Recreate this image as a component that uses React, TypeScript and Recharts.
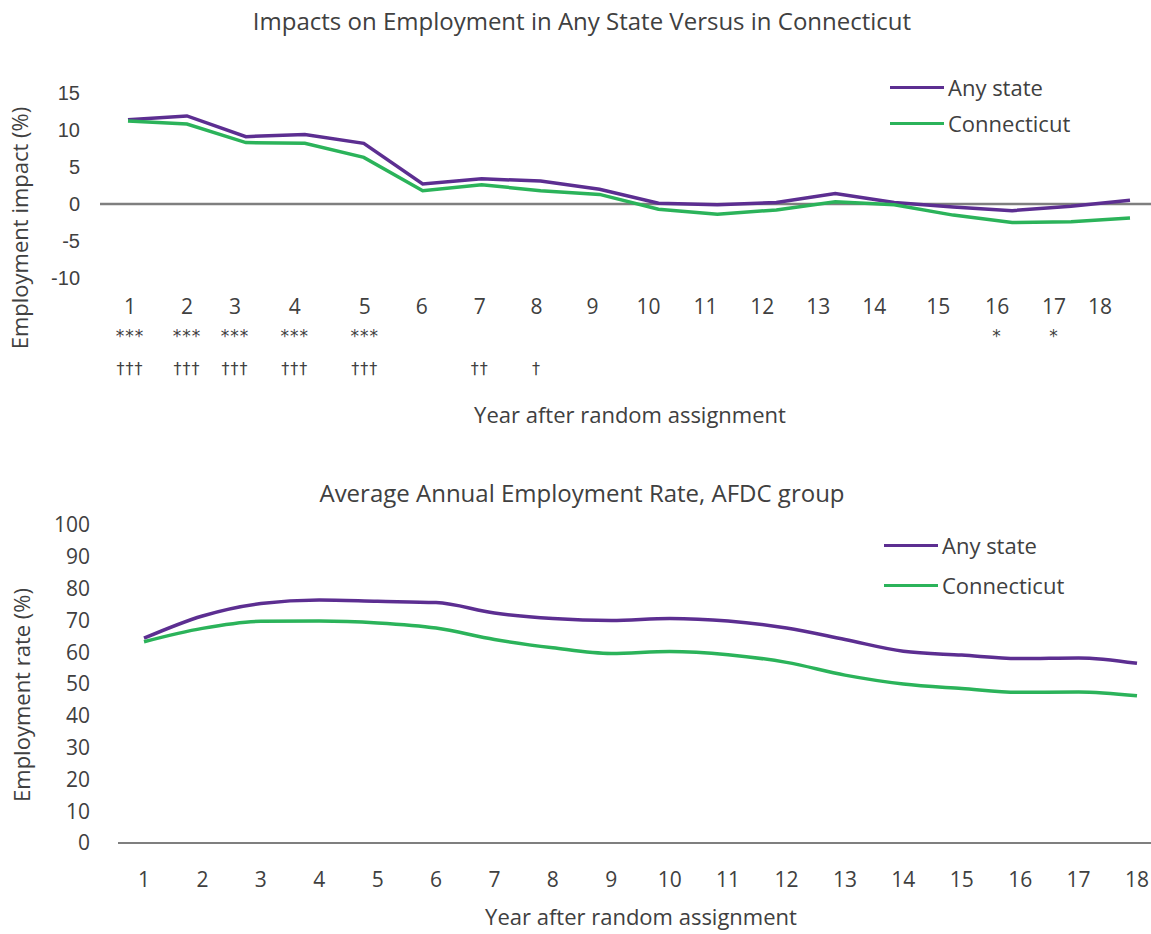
import { Label, Line, LineChart, ReferenceLine, XAxis, YAxis } from "recharts";

const years = [1, 2, 3, 4, 5, 6, 7, 8, 9, 10, 11, 12, 13, 14, 15, 16, 17, 18];
const seriesNames = ["Any state", "Connecticut"];

// top panel: impact (%)
const impactAnyState = [11.4, 11.9, 9.1, 9.4, 8.2, 2.7, 3.4, 3.1, 2.0, 0.1, -0.1, 0.2, 1.4, 0.2, -0.4, -0.9, -0.3, 0.5];
const impactConnecticut = [11.2, 10.8, 8.3, 8.2, 6.3, 1.8, 2.6, 1.8, 1.3, -0.7, -1.4, -0.8, 0.3, -0.1, -1.5, -2.5, -2.4, -1.9];
const stars = ["***", "***", "***", "***", "***", "", "", "", "", "", "", "", "", "", "", "*", "*", ""];
const daggers = ["†††", "†††", "†††", "†††", "†††", "", "††", "†", "", "", "", "", "", "", "", "", "", ""];
const impactTicks = [-10, -5, 0, 5, 10, 15];

// bottom panel: employment rate (%)
const rateAnyState = [64.4, 71.4, 75.3, 76.4, 76.0, 75.6, 72.3, 70.6, 70.0, 70.6, 69.8, 67.6, 64.0, 60.3, 59.1, 58.0, 58.2, 56.5];
const rateConnecticut = [63.3, 67.5, 69.7, 69.8, 69.2, 67.6, 64.0, 61.4, 59.6, 60.2, 59.2, 56.8, 52.8, 50.0, 48.6, 47.4, 47.5, 46.3];
const rateTicks = [0, 10, 20, 30, 40, 50, 60, 70, 80, 90, 100];

const PURPLE = "#5c2e91";
const GREEN = "#2bb35a";
const colors = [PURPLE, GREEN];
const TEXT = "#404040";
const FONT = "'Open Sans', sans-serif";

// the year labels in the top panel sit a little off their points in the original
const labelNudge = [2, 0, -11, -10, 1, -1, -2, -4, -7, -10, -12, -14, -17, -20, -15, -15, -17, -30];

const impactData = years.map((y, i) => ({ year: y, any: impactAnyState[i], ct: impactConnecticut[i] }));
const rateData = years.map((y, i) => ({ year: y, any: rateAnyState[i], ct: rateConnecticut[i] }));

function ImpactTick(props: any) {
  const { x, y, payload } = props;
  const i = years.indexOf(payload.value);
  return (
    <g transform={`translate(${x + labelNudge[i]},${y})`} fill={TEXT} textAnchor="middle">
      <text y={29} dy="0.35em" fontSize={21} fontFamily={FONT}>{payload.value}</text>
      <text y={58} dy="0.35em" fontSize={17} letterSpacing={1} fontFamily="'DejaVu Sans', sans-serif">{stars[i]}</text>
      <text y={90} dy="0.35em" fontSize={16} letterSpacing={1} fontFamily="'DejaVu Sans', sans-serif">{daggers[i]}</text>
    </g>
  );
}

function LegendBox({ left, top, rowH }: { left: number; top: number; rowH: number }) {
  return (
    <div style={{ position: "absolute", left, top, fontFamily: FONT, fontSize: 22, color: TEXT }}>
      {seriesNames.map((name, i) => (
        <div key={name} style={{ display: "flex", alignItems: "center", height: rowH }}>
          <span style={{ display: "inline-block", width: 54, height: 3, background: colors[i], marginRight: 4 }} />
          <span>{name}</span>
        </div>
      ))}
    </div>
  );
}

function title(text: string, top: number) {
  return (
    <div style={{ position: "absolute", left: 0, width: 1164, top, textAlign: "center", fontFamily: FONT, fontSize: 24, color: TEXT, lineHeight: "30px" }}>
      {text}
    </div>
  );
}

export default function App() {
  return (
    <div style={{ position: "absolute", left: 0, top: 0, width: 1151, height: 934, background: "#fff" }}>
      {title("Impacts on Employment in Any State Versus in Connecticut", 6)}
      <div style={{ position: "absolute", left: 0, top: 0 }}>
        <LineChart width={1151} height={440} data={impactData} margin={{ top: 93, right: 0, bottom: 0, left: 0 }}>
          <XAxis dataKey="year" type="number" domain={[1, 18]} ticks={years} interval={0}
            padding={{ left: 28, right: 21 }} height={162} axisLine={false} tickLine={false}
            tickSize={0} tickMargin={0} tick={<ImpactTick />}>
            <Label content={() => (
              <text x={630} y={415} dy="0.35em" textAnchor="middle" fontFamily={FONT} fontSize={22} fill={TEXT}>
                Year after random assignment
              </text>
            )} />
          </XAxis>
          <YAxis type="number" domain={[-10, 15]} ticks={impactTicks} width={100} axisLine={false} tickLine={false}
            tickSize={0} tickMargin={20} interval={0}
            tick={{ fontFamily: "'Liberation Sans', Arial, sans-serif", fontSize: 20, fill: TEXT }}>
            <Label content={() => (
              <text x={20} y={228} dy="0.35em" textAnchor="middle" transform="rotate(-90 20 228)" fontFamily={FONT} fontSize={22} fill={TEXT}>
                Employment impact (%)
              </text>
            )} />
          </YAxis>
          <ReferenceLine y={0} stroke="#7f7f7f" strokeWidth={2.5} />
          <Line name={seriesNames[0]} dataKey="any" type="linear" stroke={PURPLE} strokeWidth={3.5} dot={false} isAnimationActive={false} />
          <Line name={seriesNames[1]} dataKey="ct" type="linear" stroke={GREEN} strokeWidth={3.5} dot={false} isAnimationActive={false} />
        </LineChart>
      </div>
      <LegendBox left={890} top={69} rowH={36} />

      {title("Average Annual Employment Rate, AFDC group", 478)}
      <div style={{ position: "absolute", left: 0, top: 460 }}>
        <LineChart width={1151} height={474} data={rateData} margin={{ top: 65, right: 0, bottom: 0, left: 0 }}>
          <XAxis dataKey="year" type="number" domain={[1, 18]} ticks={years} interval={0}
            padding={{ left: 26, right: 14 }} height={91} axisLine={{ stroke: "#7f7f7f", strokeWidth: 2 }} tickLine={false}
            tickSize={0} tickMargin={29} tick={{ fontFamily: FONT, fontSize: 21, fill: TEXT }}>
            <Label content={() => (
              <text x={641} y={457} dy="0.35em" textAnchor="middle" fontFamily={FONT} fontSize={22} fill={TEXT}>
                Year after random assignment
              </text>
            )} />
          </XAxis>
          <YAxis type="number" domain={[0, 100]} ticks={rateTicks} width={118} axisLine={false} tickLine={false}
            tickSize={0} tickMargin={28} interval={0}
            tick={{ fontFamily: FONT, fontSize: 21, fill: TEXT }}>
            <Label content={() => (
              <text x={22} y={235} dy="0.35em" textAnchor="middle" transform="rotate(-90 22 235)" fontFamily={FONT} fontSize={22} fill={TEXT}>
                Employment rate (%)
              </text>
            )} />
          </YAxis>
          <Line name={seriesNames[0]} dataKey="any" type="monotone" stroke={PURPLE} strokeWidth={3.5} dot={false} isAnimationActive={false} />
          <Line name={seriesNames[1]} dataKey="ct" type="monotone" stroke={GREEN} strokeWidth={3.5} dot={false} isAnimationActive={false} />
        </LineChart>
      </div>
      <LegendBox left={884} top={525} rowH={40} />
    </div>
  );
}
